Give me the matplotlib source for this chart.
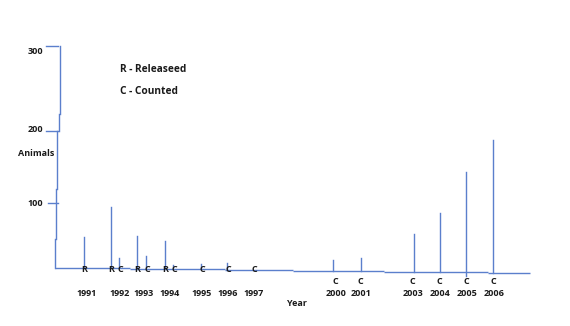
import numpy as np
import matplotlib
matplotlib.use("Agg")
import matplotlib.pyplot as plt
import matplotlib.transforms as mtransforms

# --- data -------------------------------------------------------------
years = ["1991", "1992", "1993", "1994", "1995", "1996", "1997",
         "2000", "2001", "2003", "2004", "2005", "2006"]
released_years = ["1991", "1992", "1993", "1994"]
released = [48, 94, 49, 41]
counted_years = ["1992", "1993", "1994", "1995", "1996", "1997",
                 "2000", "2001", "2003", "2004", "2005", "2006"]
counted = [15, 18, 4, 6, 7, 0, 13, 15, 52, 84, 143, 188]
y_ticks = [100, 200, 300]

# --- layout (horizontal positions along the time line) -----------------
year_x = dict(zip(years, [87, 120, 144, 170, 202, 228, 254,
                          336, 361, 413, 440, 467, 494]))
rel_x = dict(zip(released_years, [84, 111, 137, 165]))
cnt_x = dict(zip(counted_years, [119, 146, 173, 201, 227, 253,
                                 333, 361, 414, 440, 466, 493]))

BLUE = "#5b7fcc"
LW = 1.0
FONT = dict(family=["Open Sans", "DejaVu Sans"], fontweight="bold",
            fontsize=6.5, color="#1a1a1a")
KEY_FONT = dict(FONT, fontsize=7.3)

W, H = 570, 326
fig = plt.figure(figsize=(W / 100, H / 100), dpi=100)
ax = fig.add_axes([0, 0, 1, 1])
ax.set_axis_off()

# hand-drawn value axis: the spacing between gridlines widens going up
vk = [-100, 0, 100, 200, 300, 400]
pk = [-65, 0, 65, 137, 221, 305]


def fwd(v):
    return np.interp(v, vk, pk)


def inv(p):
    return np.interp(p, pk, vk)


ax.set_yscale("function", functions=(fwd, inv))
ax.set_xlim(0, W)
ax.set_ylim(inv(-(H - 268)), inv(268))

# pixel-space transform for labels
px = mtransforms.Affine2D().scale(1 / W, -1 / H).translate(0, 1) + fig.transFigure

# slightly sagging base line, drawn as short steps
base_x = [55, 130, 225, 293, 384, 488, 530]
base_v = [0, -2.0, -3.0, -4.6, -6.2, -7.7]


def base_at(x):
    i = np.searchsorted(base_x, x, side="right") - 1
    return base_v[min(max(i, 0), len(base_v) - 1)]


for i in range(len(base_v)):
    ax.plot([base_x[i], base_x[i + 1]], [base_v[i], base_v[i]],
            color=BLUE, lw=LW, solid_capstyle="butt")

# vertical axis, drawn in a few slightly shifted strokes
axis_x = [60, 59, 57, 56, 55]
axis_v = [301, 220, 200, 120, 45, 0]
for i, xx in enumerate(axis_x):
    ax.plot([xx, xx], [axis_v[i], axis_v[i + 1]], color=BLUE, lw=LW)
tick_left = {100: 48, 200: 46, 300: 46}
for t in y_ticks:
    tv = t + (1 if t == 300 else 0)
    ax.plot([tick_left[t], 58], [tv, tv], color=BLUE, lw=LW)

# spikes
for yr, v in zip(released_years, released):
    x = rel_x[yr]
    b = base_at(x)
    ax.plot([x, x], [b, v], color=BLUE, lw=LW)
for yr, v in zip(counted_years, counted):
    x = cnt_x[yr]
    b = base_at(x)
    if v > 0:
        ax.plot([x, x], [b - (6 if yr == "2005" else 0), v], color=BLUE, lw=LW)

# tick labels and axis titles
for t, y in zip(y_ticks, [204, 129, 52]):
    ax.text(43, y, str(t), transform=px, ha="right", va="center", **FONT)
ax.text(36, 154, "Animals", transform=px, ha="center", va="center", **FONT)
ax.text(297, 303, "Year", transform=px, ha="center", va="center", **FONT)
ax.text(120, 70, "R - Releaseed", transform=px, ha="left", va="center", **KEY_FONT)
ax.text(120, 92, "C - Counted", transform=px, ha="left", va="center", **KEY_FONT)

for yr in years:
    ax.text(year_x[yr], 294, yr, transform=px, ha="center", va="center", **FONT)

# R / C markers
for yr in released_years:
    x = rel_x[yr]
    ax.text(x, 270, "R", transform=px, ha="center", va="center", **FONT)
for yr in counted_years:
    x = cnt_x[yr]
    if int(yr) < 2000:
        ax.text(x + 1, 270, "C", transform=px, ha="center", va="center", **FONT)
    else:
        ax.text(year_x[yr] - 1, 282, "C", transform=px, ha="center", va="center", **FONT)

fig.savefig("out.png", dpi=100)
